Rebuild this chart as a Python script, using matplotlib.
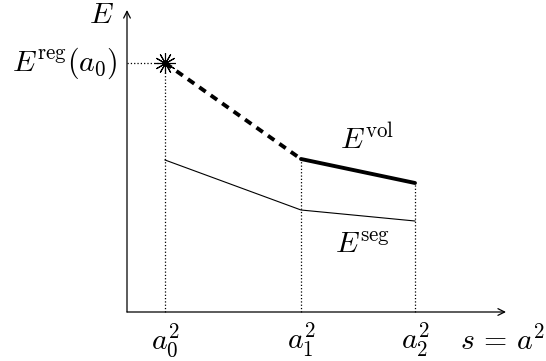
import matplotlib
matplotlib.use('Agg')
import matplotlib.pyplot as plt

plt.rcParams['mathtext.fontset'] = 'cm'
plt.rcParams['font.family'] = 'serif'
plt.rcParams['font.serif'] = ['DejaVu Serif']

# Sample points on the s axis and energies (units are arbitrary, origin at axis corner)
s_pts = [38, 174, 288]
s_labels = ['$a_0^2$', '$a_1^2$', '$a_2^2$']
e_reg0 = 249
e_vol = [153, 129]        # at a1, a2
e_seg = [152, 102, 91]    # at a0, a1, a2
x_end = 379
y_end = 302

fig = plt.figure(figsize=(5.46,3.61),dpi=100)
ax = fig.add_axes([0,0,1,1])
ax.set_xlim(-127,419)
ax.set_ylim(-49,312)
ax.axis('off')

# axes with open arrow heads
ax.annotate('',xy=(x_end,0),xytext=(0,0),
            arrowprops=dict(arrowstyle='->',lw=0.9,color='k',shrinkA=0,shrinkB=0,mutation_scale=12))
ax.annotate('',xy=(0,y_end),xytext=(0,0),
            arrowprops=dict(arrowstyle='->',lw=0.9,color='k',shrinkA=0,shrinkB=0,mutation_scale=12))

# dotted guides
ax.plot([s_pts[0],s_pts[0]],[0,e_reg0],'k:',lw=0.9)
ax.plot([0,s_pts[0]],[e_reg0,e_reg0],'k:',lw=0.9)
ax.plot([s_pts[1],s_pts[1]],[0,e_vol[0]],'k:',lw=0.9)
ax.plot([s_pts[2],s_pts[2]],[0,e_vol[1]],'k:',lw=0.9)

# segmentation energy
ax.plot(s_pts,e_seg,'k-',lw=0.8)
# extrapolated part and volumetric energy
ax.plot([s_pts[0],s_pts[1]],[e_reg0,e_vol[0]],'k',lw=2.8,dashes=(2.0,1.6),solid_capstyle='butt')
ax.plot(s_pts[1:],e_vol,'k-',lw=2.8,solid_capstyle='round')
ax.plot([s_pts[0]],[e_reg0],marker=(12,2,0),ms=15,mew=0.8,color='k')

fs = 21.5
for s,lab in zip(s_pts,s_labels):
    ax.text(s,-28,lab,fontsize=fs,ha='center',va='center')
ax.text(418,-28,r'$s\,=\,a^2$',fontsize=fs,ha='right',va='center')
ax.text(-13,297,'$E$',fontsize=fs,ha='right',va='center')
ax.text(-9,e_reg0,r'$E^{\rm reg}(a_0)$',fontsize=fs,ha='right',va='center')
ax.text(240,172,r'$E^{\rm vol}$',fontsize=fs,ha='center',va='center')
ax.text(236,67,r'$E^{\rm seg}$',fontsize=fs,ha='center',va='center')

fig.savefig('out.png',dpi=100)
